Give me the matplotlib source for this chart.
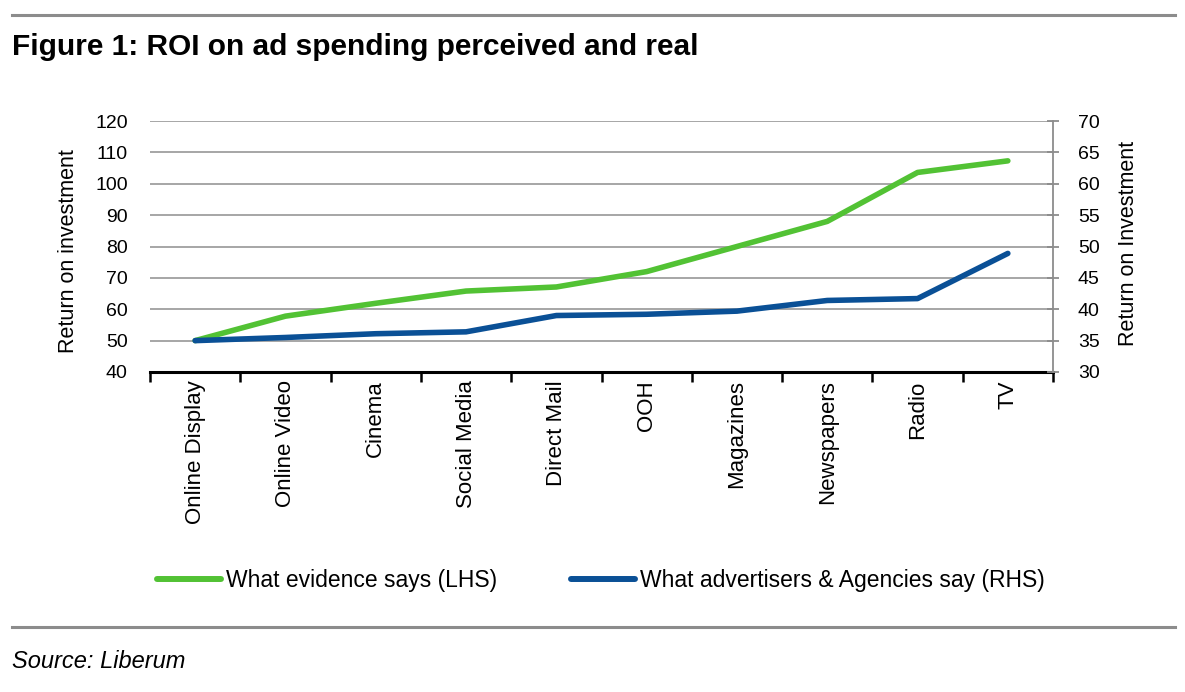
import matplotlib
matplotlib.use("Agg")
import matplotlib.pyplot as plt
from matplotlib.lines import Line2D
import numpy as np

categories = ["Online Display", "Online Video", "Cinema", "Social Media", "Direct Mail",
              "OOH", "Magazines", "Newspapers", "Radio", "TV"]
evidence_lhs = [50.0, 57.8, 61.9, 65.8, 67.1, 72.0, 80.0, 88.0, 103.6, 107.3]
advertisers_rhs = [35.0, 35.5, 36.1, 36.4, 39.0, 39.2, 39.7, 41.4, 41.7, 48.9]
left_ticks = [40, 50, 60, 70, 80, 90, 100, 110, 120]
right_ticks = [30, 35, 40, 45, 50, 55, 60, 65, 70]

GREEN = "#52C234"
BLUE = "#0A5096"
GRID = "#A6A6A6"
FONT = ["Liberation Sans", "DejaVu Sans"]

plt.rcParams["font.family"] = FONT

W, H = 1185, 692
fig = plt.figure(figsize=(W / 100, H / 100), dpi=100)

def fx(px):
    return px / W

def fy(py):
    return 1 - py / H

# rules
fig.add_artist(Line2D([fx(12), fx(1175)], [fy(15), fy(15)], color="#8C8C8C", lw=2.2))
fig.add_artist(Line2D([fx(12), fx(1175)], [fy(627), fy(627)], color="#8C8C8C", lw=2.2))

fig.text(fx(12), fy(47), "Figure 1: ROI on ad spending perceived and real",
         fontsize=21.5, fontweight="bold", ha="left", va="center")
fig.text(fx(12), fy(661), "Source: Liberum", fontsize=17, style="italic",
         ha="left", va="center")

AX_L, AX_R, AX_T, AX_B = 150, 1053, 121, 372
ax = fig.add_axes([fx(AX_L), fy(AX_B), fx(AX_R) - fx(AX_L), fy(AX_T) - fy(AX_B)])
x = np.arange(len(categories))
ax.set_xlim(-0.5, len(categories) - 0.5)
ax.set_ylim(left_ticks[0], left_ticks[-1])
ax.set_yticks(left_ticks)
ax.yaxis.grid(True, color=GRID, lw=1.4)
ax.set_axisbelow(True)
ax.tick_params(axis="y", length=0, labelsize=14, pad=16)

ax.set_xticks(x)
ax.set_xticklabels(categories, rotation=90, fontsize=16)
ax.tick_params(axis="x", which="major", length=0, pad=6)
ax.set_xticks(np.arange(-0.5, len(categories) + 0.5, 1), minor=True)
ax.tick_params(axis="x", which="minor", length=7, width=1.8, color="black", direction="out")

for s in ["left", "top", "right"]:
    ax.spines[s].set_visible(False)
ax.spines["bottom"].set_linewidth(2.2)
ax.spines["bottom"].set_color("black")
ax.spines["bottom"].set_zorder(5)

ax.plot(x, evidence_lhs, color=GREEN, lw=4, solid_capstyle="round",
        solid_joinstyle="round", zorder=3)

ax2 = ax.twinx()
ax2.set_ylim(right_ticks[0], right_ticks[-1])
ax2.set_yticks(right_ticks)
ax2.plot(x, advertisers_rhs, color=BLUE, lw=4, solid_capstyle="round",
         solid_joinstyle="round", zorder=3)
for s in ["left", "top", "bottom"]:
    ax2.spines[s].set_visible(False)
ax2.spines["right"].set_color("#8C8C8C")
ax2.spines["right"].set_linewidth(1.3)
ax2.tick_params(axis="y", length=8, width=1.3, color="#8C8C8C", direction="inout",
                labelsize=14, pad=14)

fig.text(fx(68), fy(251), "Return on investment", rotation=90, fontsize=15.5,
         ha="center", va="center")
fig.text(fx(1128), fy(243), "Return on Investment", rotation=90, fontsize=15.5,
         ha="center", va="center")

handles = [Line2D([], [], color=GREEN, lw=4.3, solid_capstyle="round"),
           Line2D([], [], color=BLUE, lw=4.3, solid_capstyle="round")]
labels = ["What evidence says (LHS)", "What advertisers & Agencies say (RHS)"]
fig.legend(handles, labels, loc="center left", bbox_to_anchor=(fx(157), fy(581)),
           ncol=2, frameon=False, handlelength=2.8, handletextpad=0.22,
           columnspacing=3.2, borderpad=0, borderaxespad=0,
           prop={"family": FONT, "size": 16.5})

fig.savefig("out.png", dpi=100)
